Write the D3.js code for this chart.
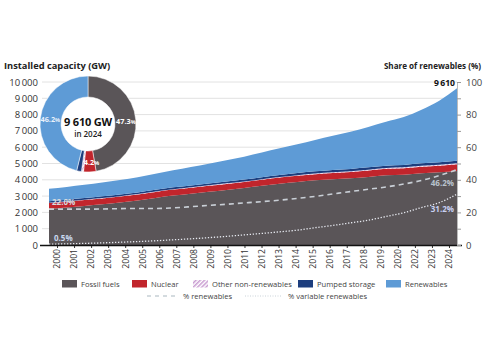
<!DOCTYPE html>
<html><head><meta charset="utf-8">
<script src="https://cdn.jsdelivr.net/npm/d3@7"></script>
<style>body{margin:0;background:#fff}svg{display:block;font-family:"Open Sans",sans-serif}</style>
</head><body><svg id="c" width="500" height="353"></svg>
<script>
const years = ["2000","2001","2002","2003","2004","2005","2006","2007","2008","2009","2010","2011","2012","2013","2014","2015","2016","2017","2018","2019","2020","2022","2023","2024"];
const fossil = [2226,2304,2399,2500,2611,2733,2891,3031,3147,3261,3378,3499,3632,3762,3868,3966,4034,4091,4175,4273,4316,4409,4468,4545];
const nuclear = [350,355,358,360,362,365,367,369,370,371,372,368,370,372,375,380,388,392,396,398,395,394,397,404];
const otherNonRen = [20,21,22,23,24,25,26,27,28,30,32,34,36,38,40,42,45,48,51,54,57,62,66,71];
const pumped = [95,97,99,101,103,105,107,109,112,115,118,121,124,127,130,133,136,139,142,144,146,148,149,150];
const renewables = [759,783,812,846,890,932,979,1044,1123,1213,1300,1398,1508,1631,1767,1919,2097,2280,2476,2691,2936,3287,3770,4440];
const pctRenew = [22.0,22.0,22.0,22.1,22.3,22.4,22.4,22.8,23.5,24.3,25.0,25.8,26.6,27.5,28.6,29.8,31.3,32.8,34.2,35.6,37.4,39.6,42.6,46.2];
const pctVariable = [0.5,0.7,1.0,1.3,1.7,2.1,2.6,3.2,3.8,4.5,5.3,6.2,7.1,8.1,9.1,10.6,12.0,13.6,15.2,17.5,19.8,23.0,26.0,31.2];
const leftTicks = [0,1000,2000,3000,4000,5000,6000,7000,8000,9000,10000];
const rightTicks = [0,20,40,60,80,100];
const donutLabels = ["Fossil fuels","Nuclear","Other non-renewables","Pumped storage","Renewables"];
const donutShares = [47.3,4.2,0.7,1.6,46.2];
const totalLabel = "9 610 GW";
const totalYear = "in 2024";

const colors = {"Fossil fuels":"#5a5558","Nuclear":"#c1252c","Other non-renewables":"url(#hatch)","Pumped storage":"#1d3e7e","Renewables":"#5e9bd6"};
const svg = d3.select("#c");
const defs = svg.append("defs");
const pat = defs.append("pattern").attr("id","hatch").attr("patternUnits","userSpaceOnUse").attr("width",3).attr("height",3).attr("patternTransform","rotate(45)");
pat.append("rect").attr("width",3).attr("height",3).attr("fill","#fff");
pat.append("rect").attr("width",1.5).attr("height",3).attr("fill","#c79ad0");

const x = d3.scaleBand().domain(years).range([49,458]);      // tick labels
const xa = d3.scalePoint().domain(years).range([49,457]);    // area / line points
const y = d3.scaleLinear().domain([0,10000]).range([245,82]);
const yr = d3.scaleLinear().domain([0,100]).range([245,82]);

// titles
svg.append("text").attr("x",4).attr("y",69).attr("font-size",9.3).attr("font-weight",700).attr("fill","#222").text("Installed capacity (GW)");
svg.append("text").attr("x",481).attr("y",69).attr("text-anchor","end").attr("font-size",8.1).attr("font-weight",700).attr("fill","#222").text("Share of  renewables (%)");

// grid
svg.append("g").selectAll("line").data(leftTicks.filter(d=>d>0)).join("line")
 .attr("x1",42).attr("x2",457).attr("y1",d=>y(d)).attr("y2",d=>y(d)).attr("stroke","#e2e2e2").attr("stroke-width",1);
// left axis
const ga = svg.append("g").attr("transform","translate(38,0)").call(d3.axisLeft(y).tickValues(leftTicks).tickSize(0).tickPadding(0).tickFormat(d=>d3.format(",")(d).replace(",","\u2009")));
ga.select(".domain").remove();
ga.selectAll("text").attr("font-size",9.5).attr("fill","#333").attr("font-family","Open Sans");

// stacked data
const keys = ["Fossil fuels","Nuclear","Other non-renewables","Pumped storage","Renewables"];
const series = [fossil,nuclear,otherNonRen,pumped,renewables];
const rows = years.map((yy,i)=>{const o={year:yy}; keys.forEach((k,j)=>o[k]=series[j][i]); return o;});
const stack = d3.stack().keys(keys)(rows);
stack.forEach(s=>{
  const area = d3.area().x(d=>xa(d.data.year)).y0(d=>y(d[0])).y1(d=>y(d[1])).curve(d3.curveMonotoneX);
  svg.append("path").datum(s).attr("d",area).attr("fill",colors[s.key]);
});

// share lines
const line = d3.line().x((d,i)=>xa(years[i])).y(d=>yr(d)).curve(d3.curveMonotoneX);
svg.append("path").datum(pctRenew).attr("d",line).attr("fill","none").attr("stroke","#c9cfd6").attr("stroke-width",1.6).attr("stroke-dasharray","5,4");
svg.append("path").datum(pctVariable).attr("d",line).attr("fill","none").attr("stroke","#e8ebf2").attr("stroke-width",1.3).attr("stroke-dasharray","1.3,1.7");

// value labels
const lbl = (t,xx,yy,col,anchor)=>svg.append("text").attr("x",xx).attr("y",yy).attr("font-size",8).attr("font-weight",700).attr("fill",col).attr("text-anchor",anchor||"start").text(t);
lbl(pctRenew[0].toFixed(1)+"%", xa("2000")+3, yr(pctRenew[0])-4, "#d6dbe0");
lbl(pctVariable[0].toFixed(1)+"%", xa("2000")+5, yr(pctVariable[0])-3, "#c9d8ef");
lbl(pctRenew[23].toFixed(1)+"%", xa("2024")-3, yr(pctRenew[23])+16, "#b9c3cd","end");
lbl(pctVariable[23].toFixed(1)+"%", xa("2024")-3, yr(pctVariable[23])+18, "#c8d0f2","end");
const total24 = keys.reduce((a,k,j)=>a+series[j][23],0);
svg.append("text").attr("x",xa("2024")-2).attr("y",y(total24)-2.5).attr("text-anchor","end").attr("font-size",8.6).attr("font-weight",700).attr("fill","#111").text(d3.format(",")(total24).replace(",","\u2009"));

// bottom axis
const gb = svg.append("g").attr("transform","translate(0,245)").call(d3.axisBottom(x).tickSize(3).tickPadding(3));
gb.select(".domain").remove();
svg.append("line").attr("x1",40).attr("x2",462).attr("y1",245.5).attr("y2",245.5).attr("stroke","#111").attr("stroke-width",1.6);
gb.selectAll(".tick line").attr("stroke","#333");
gb.selectAll("text").attr("font-size",8.6).attr("fill","#333").attr("font-family","Open Sans")
  .attr("transform","rotate(-90)").attr("text-anchor","end").attr("dx","-4").attr("y",0).attr("x",0).attr("dy","0.33em");

// right axis
const gr = svg.append("g").attr("transform","translate(457,0)").call(d3.axisRight(yr).tickValues(d3.range(0,101,10)).tickSize(4).tickFormat(d=>rightTicks.includes(d)?d:""));
gr.select(".domain").attr("stroke","#bbb");
gr.selectAll(".tick line").attr("stroke","#999");
gr.selectAll("text").attr("font-size",9.5).attr("fill","#444").attr("font-family","Open Sans").attr("x",9);

// donut
const dg = svg.append("g").attr("transform","translate(88,124)");
dg.append("circle").attr("r",27).attr("fill","#fff");
const pie = d3.pie().sort(null).value(d=>d)(donutShares);
const arc = d3.arc().innerRadius(27).outerRadius(48);
dg.selectAll("path").data(pie).join("path").attr("d",arc).attr("fill",(d,i)=>colors[donutLabels[i]]).attr("stroke","#fff").attr("stroke-width",0.5);
const la = d3.arc().innerRadius(38).outerRadius(38);
[0,1,4].forEach(i=>{
  const c = la.centroid(pie[i]);
  const t = dg.append("text").attr("x",c[0]+(i==1?2:0)).attr("y",c[1]+3).attr("text-anchor","middle").attr("font-size",7.3).attr("font-weight",700).attr("fill",i==4?"#e9f1fb":"#fff");
  t.append("tspan").text(donutShares[i].toFixed(1));
  t.append("tspan").attr("font-size",5.5).text("%");
});
dg.append("text").attr("y",2).attr("text-anchor","middle").attr("font-size",11).attr("font-weight",700).attr("fill","#111").attr("letter-spacing",-0.2).text(totalLabel);
dg.append("text").attr("y",13).attr("text-anchor","middle").attr("font-size",8).attr("font-weight",600).attr("fill","#222").text(totalYear);

// legend
const leg = svg.append("g").attr("font-size",7.6).attr("fill","#444");
const legX = [62,132,193,298,386];
keys.forEach((k,i)=>{
  leg.append("rect").attr("x",legX[i]).attr("y",280).attr("width",15).attr("height",7.5).attr("fill",colors[k]);
  leg.append("text").attr("x",legX[i]+19).attr("y",286.5).attr("fill","#444").text(k);
});
leg.append("line").attr("x1",147).attr("x2",177).attr("y1",296).attr("y2",296).attr("stroke","#a9b8bf").attr("stroke-width",1.2).attr("stroke-dasharray","4,4");
leg.append("text").attr("x",183).attr("y",299).attr("fill","#444").text("% renewables");
leg.append("line").attr("x1",245).attr("x2",282).attr("y1",296).attr("y2",296).attr("stroke","#c9d2d8").attr("stroke-width",1).attr("stroke-dasharray","1,1.5");
leg.append("text").attr("x",288).attr("y",299).attr("fill","#444").text("% variable renewables");
</script></body></html>
